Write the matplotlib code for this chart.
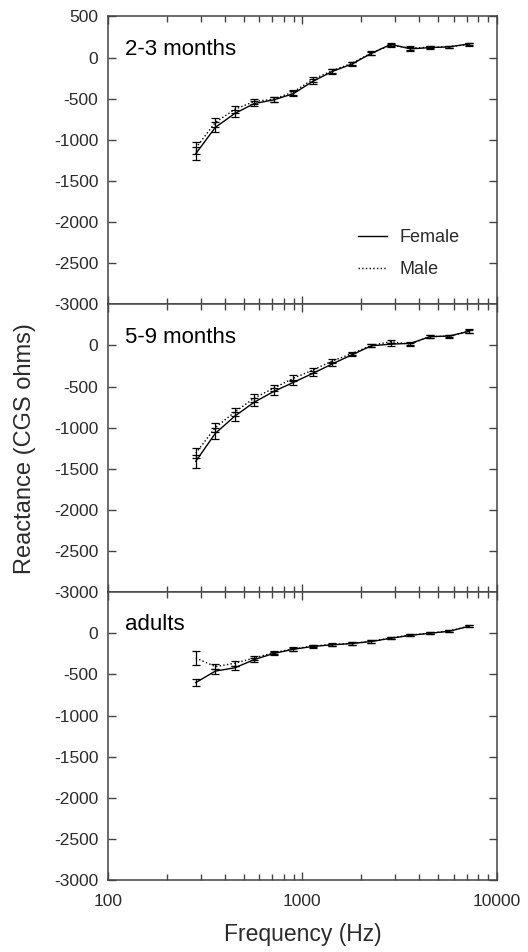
import numpy as np
import matplotlib
matplotlib.use("Agg")
import matplotlib.pyplot as plt
from matplotlib.ticker import LogLocator, FixedLocator, NullFormatter, FuncFormatter
from matplotlib.lines import Line2D

plt.rcParams['font.family'] = ['Liberation Sans', 'DejaVu Sans']
plt.rcParams['axes.unicode_minus'] = False

# frecuencias (1/3 octava)
freq = [282.8, 356.4, 449.0, 565.7, 712.7, 898.0, 1131.4, 1425.4, 1795.9,
        2262.7, 2850.8, 3591.8, 4525.5, 5701.7, 7183.7]

panel_labels = ["2-3 months", "5-9 months", "adults"]

# 2-3 meses
fem_23 = [-1170, -850, -680, -560, -515, -440, -290, -170, -80, 50, 160, 105, 120, 130, 165]
fem_23_err = [80, 60, 45, 35, 30, 30, 30, 25, 20, 20, 20, 20, 15, 15, 15]
mal_23 = [-1100, -790, -630, -535, -505, -420, -265, -160, -70, 55, 150, 115, 125, 130, 160]
mal_23_err = [70, 55, 40, 35, 30, 30, 30, 25, 20, 20, 20, 20, 15, 15, 15]

# 5-9 meses
fem_59 = [-1410, -1070, -860, -690, -560, -450, -340, -225, -115, -5, 15, 25, 105, 115, 170]
fem_59_err = [80, 65, 55, 50, 40, 35, 30, 25, 20, 20, 20, 20, 20, 15, 20]
mal_59 = [-1310, -1000, -810, -640, -520, -400, -300, -190, -100, 0, 45, 15, 110, 110, 175]
mal_59_err = [65, 55, 50, 45, 40, 35, 30, 25, 20, 20, 20, 20, 20, 15, 20]

# adultos
fem_ad = [-600, -460, -420, -320, -245, -195, -160, -140, -125, -100, -60, -25, 0, 25, 85]
fem_ad_err = [40, 30, 25, 25, 20, 20, 15, 15, 15, 15, 12, 12, 12, 12, 12]
mal_ad = [-300, -405, -365, -300, -235, -190, -155, -138, -122, -98, -58, -22, 2, 28, 88]
mal_ad_err = [90, 35, 30, 25, 20, 20, 15, 15, 15, 15, 12, 12, 12, 12, 12]

paneles = [
    (fem_23, fem_23_err, mal_23, mal_23_err),
    (fem_59, fem_59_err, mal_59, mal_59_err),
    (fem_ad, fem_ad_err, mal_ad, mal_ad_err),
]

TXT = '#2b2b2b'
AX = '#444444'

fig, axes = plt.subplots(3, 1, figsize=(5.28, 9.52), dpi=100, sharex=True)
fig.subplots_adjust(left=0.2045, right=0.941, top=0.9828, bottom=0.0756, hspace=0)

for i, ax in enumerate(axes):
    fem, fem_err, mal, mal_err = paneles[i]
    ax.errorbar(freq, fem, yerr=fem_err, color='black', lw=1.0, ls='-',
                capsize=3, elinewidth=0.9, capthick=0.9)
    ax.errorbar(freq, mal, yerr=mal_err, color='black', lw=1.0, ls=':',
                capsize=3, elinewidth=0.9, capthick=0.9)
    ax.set_xscale('log')
    ax.set_xlim(100, 10000)
    ax.set_ylim(-3000, 500)
    if i == 0:
        ax.set_yticks(np.arange(-3000, 501, 500))
    else:
        ax.set_yticks(np.arange(-3000, 1, 500))
    ax.xaxis.set_major_locator(FixedLocator([100, 1000, 10000]))
    ax.xaxis.set_minor_locator(LogLocator(base=10, subs=np.arange(2, 10)))
    ax.xaxis.set_minor_formatter(NullFormatter())
    ax.tick_params(which='both', direction='in', top=True, right=True,
                   labelsize=12.5, colors=AX, labelcolor=TXT)
    ax.tick_params(axis='y', pad=7)
    ax.tick_params(axis='x', pad=10)
    ax.tick_params(which='major', length=6, width=1.0)
    ax.tick_params(which='minor', length=4, width=1.0)
    for s in ax.spines.values():
        s.set_color(AX)
        s.set_linewidth(1.1)
    ax.text(0.045, 0.867, panel_labels[i], transform=ax.transAxes,
            fontsize=16, color='black', va='baseline', ha='left')

axes[2].xaxis.set_major_formatter(FuncFormatter(lambda v, p: f"{int(v)}"))
axes[2].set_xlabel("Frequency (Hz)", fontsize=16.5, color=TXT, labelpad=10)

handles = [Line2D([], [], color='black', lw=1.0, ls='-'),
           Line2D([], [], color='black', lw=1.0, ls=':')]
leg = axes[0].legend(handles, ["Female", "Male"], loc='upper left',
                     bbox_to_anchor=(0.643, 0.262), frameon=False,
                     fontsize=13, handlelength=1.6, handletextpad=0.7,
                     labelspacing=0.85, borderpad=0, borderaxespad=0)
for t in leg.get_texts():
    t.set_color(TXT)

fig.text(0.047, 0.529, "Reactance (CGS ohms)", rotation=90, fontsize=17,
         color=TXT, ha='center', va='center')

plt.savefig("out.png", dpi=100)
